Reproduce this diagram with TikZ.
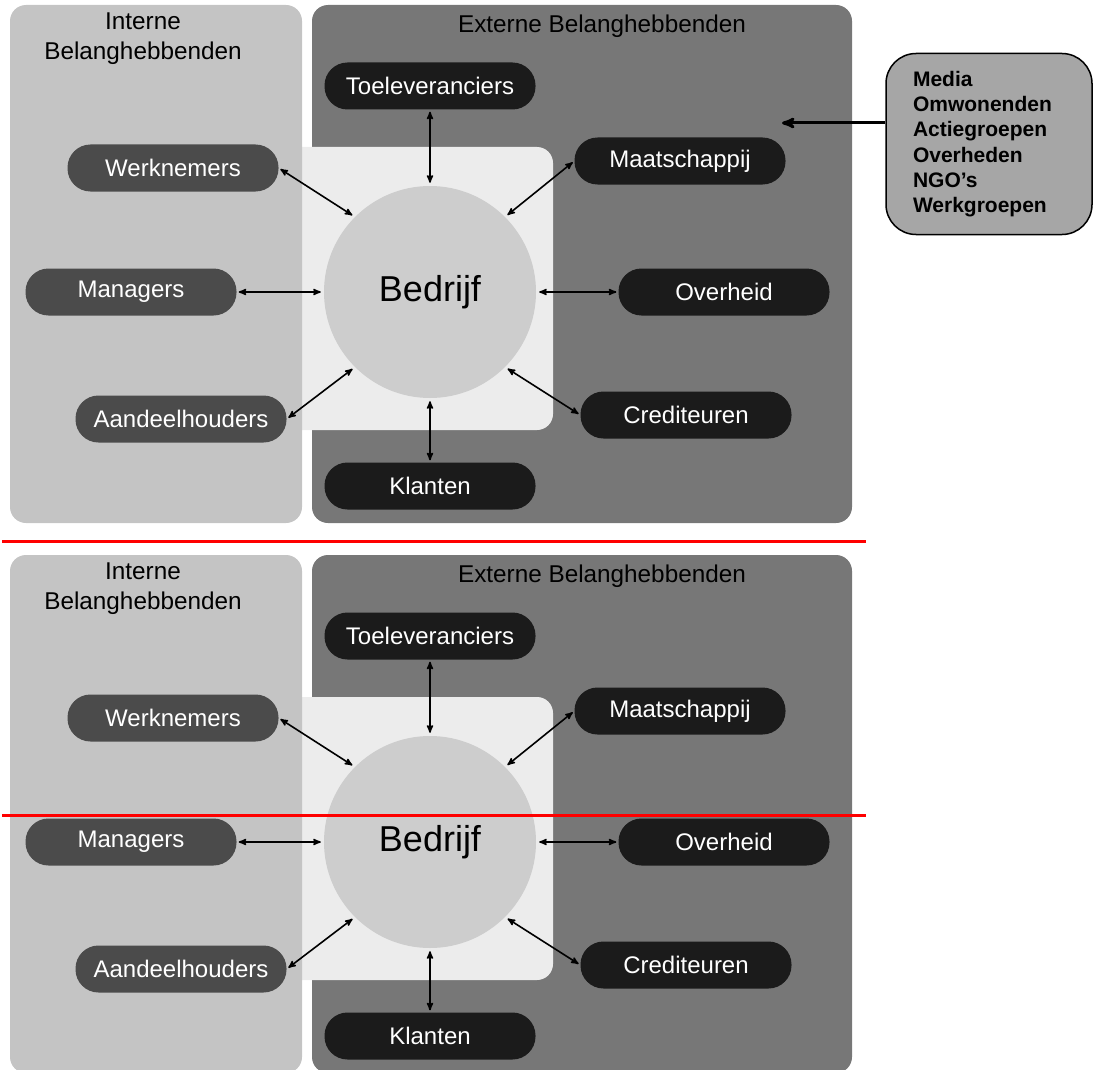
\documentclass[tikz,border=0pt]{standalone}
\usepackage{fontspec}
\setmainfont{Liberation Sans}
\usetikzlibrary{arrows}
\usetikzlibrary{positioning}

\definecolor{intpanel}{HTML}{C4C4C4}
\definecolor{extpanel}{HTML}{777777}
\definecolor{innerpanel}{HTML}{ECECEC}
\definecolor{circgray}{HTML}{CDCDCD}
\definecolor{intnode}{HTML}{4B4B4B}
\definecolor{extnode}{HTML}{1B1B1B}
\definecolor{notegray}{HTML}{A6A6A6}

\tikzset{
    intern/.style={
           rectangle,
           rounded corners=23pt,
           fill=intnode,
           text=white,
           minimum width=211pt,
           minimum height=47pt,
           inner sep=2pt,
           font=\fontsize{24}{28}\selectfont,
           },
    extern/.style={intern, fill=extnode},
    header/.style={align=center, font=\fontsize{24.3}{30}\selectfont},
    link/.style={<->, line width=1.6pt, shorten <=2pt, shorten >=3pt},
}

\begin{document}
\begin{tikzpicture}[>=stealth', x=1pt, y=-1pt]

 \useasboundingbox (0,0) rectangle (1095,1070);

 % two copies of the stakeholder picture, one above the other
 \foreach \k/\dy in {a/0,b/550}{
 \begin{scope}[yshift=-\dy pt]
  % panels behind the nodes
  \fill[extpanel, rounded corners=16pt] (312,5) rectangle (852,523);
  \fill[innerpanel, rounded corners=16pt] (270,147) rectangle (553,430);
  \fill[intpanel, rounded corners=16pt] (10,5) rectangle (302,523);

  \node[header] (intern\k) at (143,39) {Interne\\Belanghebbenden};
  \node[header] (extern\k) at (602,26) {Externe Belanghebbenden};

  % the company in the middle
  \node[circle, fill=circgray, minimum size=212pt,
   font=\fontsize{36}{40}\selectfont] (bedrijf\k) at (430,292) {Bedrijf};

  \node[extern, above of=bedrijf\k, node distance=206pt] (toel\k) {Toeleveranciers};
  \node[extern, below of=bedrijf\k, node distance=194pt] (klant\k) {Klanten};

  \node[intern, left of=bedrijf\k, node distance=299pt] (manager\k) {Managers};
  \node[intern, above of=manager\k, node distance=124pt, xshift=42pt] (werknemer\k) {Werknemers};
  \node[intern, below of=manager\k, node distance=127pt, xshift=50pt] (aandeel\k) {Aandeelhouders};

  \node[extern, right of=bedrijf\k, node distance=294pt] (overheid\k) {Overheid};
  \node[extern, above of=overheid\k, node distance=131pt, xshift=-44pt] (maatsch\k) {Maatschappij};
  \node[extern, below of=overheid\k, node distance=123pt, xshift=-38pt] (crediteur\k) {Crediteuren};

  % relations with the company
  \draw[link] (toel\k) -- (bedrijf\k);
  \draw[link] (klant\k) -- (bedrijf\k);
  \draw[link] (manager\k) -- (bedrijf\k);
  \draw[link] (overheid\k) -- (bedrijf\k);
  \draw[link] (werknemer\k.east) -- (bedrijf\k.135);
  \draw[link] (aandeel\k.east) -- (bedrijf\k.225);
  \draw[link] (maatsch\k.west) -- (bedrijf\k.45);
  \draw[link] (crediteur\k.west) -- (bedrijf\k.-45);
 \end{scope}
 }

 % extra groups
 \node[rectangle, rounded corners=30pt, draw=black, line width=1.5pt,
  fill=notegray, minimum width=206pt, minimum height=181pt,
  text width=152pt, align=left,
  font=\bfseries\fontsize{21}{25.3}\selectfont] (groepen) at (989,144)
  {Media\\Omwonenden\\Actiegroepen\\Overheden\\NGO’s\\Werkgroepen};
 \coordinate (groepenpijl) at (782,123);
 \draw[->, line width=3pt] (groepen.west |- groepenpijl) -- (groepenpijl);

 % red marker lines
 \draw[red, line width=3pt] (2,541) -- (866,541);
 \draw[red, line width=3pt] (2,815) -- (866,815);

\end{tikzpicture}
\end{document}
